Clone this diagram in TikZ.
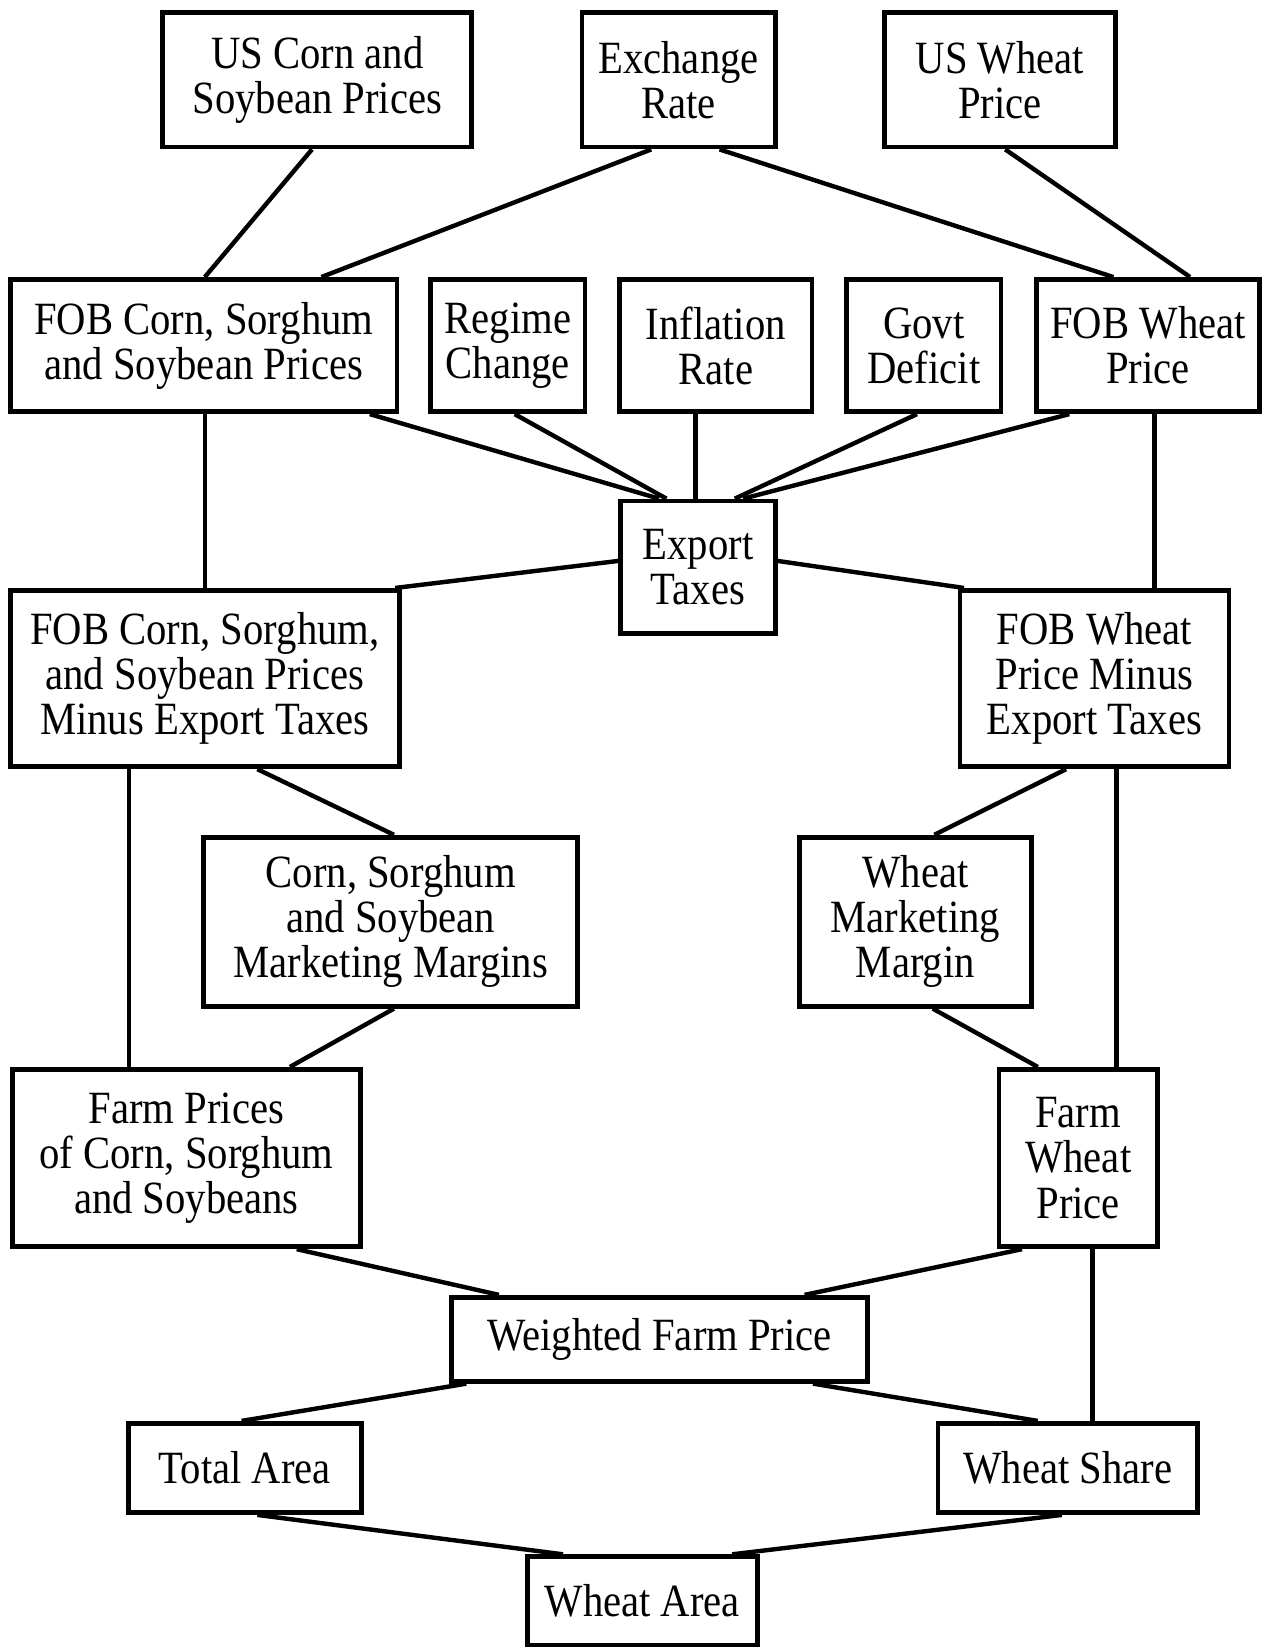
\documentclass[tikz,border=0pt]{standalone}
\usepackage{fontspec}
\setmainfont{Liberation Serif}[FakeStretch=0.88]
\begin{document}
\begin{tikzpicture}[x=1pt,y=-1pt,
  box/.style={draw, line width=4.5pt, inner sep=0pt, align=center, font=\fontsize{44}{43}\selectfont},
  link/.style={line width=4.2pt}]
\useasboundingbox (0,0) rectangle (1201,1568);
% row 1
\node[box, minimum width=294pt, minimum height=128pt] (uscorn) at (302,76) {US Corn and\\Soybean Prices};
\node[box, minimum width=184pt, minimum height=128pt] (exch) at (646,76) {Exchange\\Rate};
\node[box, minimum width=220pt, minimum height=128pt] (uswheat) at (952,76) {US Wheat\\Price};
% row 2
\node[box, minimum width=368pt, minimum height=126pt] (fobcorn) at (194,329) {FOB Corn, Sorghum\\and Soybean Prices};
\node[box, minimum width=147pt, minimum height=126pt] (regime) at (483.5,329) {Regime\\Change};
\node[box, minimum width=183pt, minimum height=126pt] (infl) at (681.5,329) {Inflation\\Rate};
\node[box, minimum width=147pt, minimum height=126pt] (govt) at (879.5,329) {Govt\\Deficit};
\node[box, minimum width=212pt, minimum height=126pt] (fobwheat) at (1093,329) {FOB Wheat\\Price};
% export taxes
\node[box, minimum width=147pt, minimum height=126pt] (export) at (664.5,540) {Export\\Taxes};
% row 3
\node[box, minimum width=370pt, minimum height=168pt] (fobcornm) at (195,646) {FOB Corn, Sorghum,\\and Soybean Prices\\Minus Export Taxes};
\node[box, minimum width=256pt, minimum height=168pt] (fobwheatm) at (1042,646) {FOB Wheat\\Price Minus\\Export Taxes};
% row 4
\node[box, minimum width=356pt, minimum height=161pt] (cssmm) at (372,877.5) {Corn, Sorghum\\and Soybean\\Marketing Margins};
\node[box, minimum width=221pt, minimum height=161pt] (wmm) at (871.5,877.5) {Wheat\\Marketing\\Margin};
% row 5
\node[box, minimum width=331pt, minimum height=169pt] (farmc) at (177.5,1102.5) {Farm Prices\\of Corn, Sorghum\\and Soybeans};
\node[box, minimum width=151pt, minimum height=169pt] (farmw) at (1026.5,1102.5) {Farm\\Wheat\\Price};
% bottom
\node[box, minimum width=396pt, minimum height=80pt] (weighted) at (628,1275) {Weighted Farm Price};
\node[box, minimum width=222pt, minimum height=85pt] (total) at (233,1397.5) {Total Area};
\node[box, minimum width=247pt, minimum height=85pt] (share) at (1016.5,1397.5) {Wheat Share};
\node[box, minimum width=219pt, minimum height=84pt] (warea) at (611.5,1524) {Wheat Area};
% connectors, top
\draw[link] ([xshift=-5pt]uscorn.south) -- ([xshift=1pt]fobcorn.north);
\draw[link] ([xshift=-26pt]exch.south) -- ([xshift=112pt]fobcorn.north);
\draw[link] ([xshift=39pt]exch.south) -- ([xshift=-33pt]fobwheat.north);
\draw[link] ([xshift=5pt]uswheat.south) -- ([xshift=40pt]fobwheat.north);
% into export taxes
\draw[link] ([xshift=158pt]fobcorn.south) -- ([xshift=-37pt]export.north);
\draw[link] ([xshift=6.5pt]regime.south) -- ([xshift=-30pt]export.north);
\draw[link] ([xshift=-19.5pt]infl.south) -- ([xshift=-2.5pt]export.north);
\draw[link] ([xshift=-6.5pt]govt.south) -- ([xshift=35pt]export.north);
\draw[link] ([xshift=-75pt]fobwheat.south) -- ([xshift=43pt]export.north);
% verticals
\draw[link] ([xshift=1pt]fobcorn.south) -- (fobcornm.north);
\draw[link] ([xshift=6pt]fobwheat.south) -- ([xshift=57pt]fobwheatm.north);
% export taxes out
\draw[link] ([yshift=6pt]export.west) -- ([xshift=-6pt]fobcornm.north east);
\draw[link] ([yshift=6pt]export.east) -- ([xshift=6pt]fobwheatm.north west);
% margins
\draw[link] ([xshift=50pt]fobcornm.south) -- ([xshift=3pt]cssmm.north);
\draw[link] ([xshift=-72pt]fobcornm.south) -- ([xshift=-54.5pt]farmc.north);
\draw[link] ([xshift=-27pt]fobwheatm.south) -- ([xshift=18pt]wmm.north);
\draw[link] ([xshift=21pt]fobwheatm.south) -- ([xshift=36.5pt]farmw.north);
\draw[link] ([xshift=3pt]cssmm.south) -- ([xshift=98.5pt]farmc.north);
\draw[link] ([xshift=16.5pt]wmm.south) -- ([xshift=-38.5pt]farmw.north);
% bottom part
\draw[link] ([xshift=105pt]farmc.south) -- ([xshift=-153pt]weighted.north);
\draw[link] ([xshift=-53.5pt]farmw.south) -- ([xshift=138pt]weighted.north);
\draw[link] ([xshift=13.5pt]farmw.south) -- ([xshift=23.5pt]share.north);
\draw[link] ([xshift=-184pt]weighted.south) -- ([xshift=-3pt]total.north);
\draw[link] ([xshift=146pt]weighted.south) -- ([xshift=-28.5pt]share.north);
\draw[link] ([xshift=12pt]total.south) -- ([xshift=-75.5pt]warea.north);
\draw[link] ([xshift=-5.5pt]share.south) -- ([xshift=85.5pt]warea.north);
\end{tikzpicture}
\end{document}
